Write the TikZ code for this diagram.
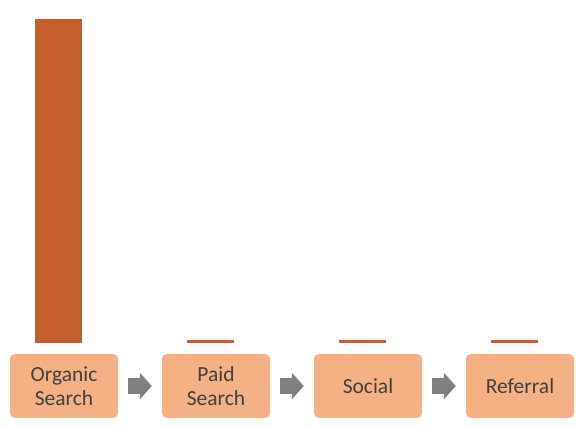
\documentclass[tikz,border=0pt]{standalone}
\usepackage{fontspec}
\setmainfont{Carlito}
\usetikzlibrary{arrows.meta}

\definecolor{barorange}{HTML}{C65E2C}
\definecolor{boxorange}{HTML}{F4B183}
\definecolor{textgray}{HTML}{404040}
\definecolor{arrowgray}{HTML}{7F7F7F}

\tikzset{
  stage/.style={fill=boxorange, rounded corners=5pt, minimum width=108pt,
    minimum height=64pt, inner sep=0pt, align=center, text=textgray,
    font=\fontsize{21.5}{24}\selectfont},
  flow/.style={draw=arrowgray, line width=16pt,
    -{Triangle[width=26pt,length=12pt]}}
}

\begin{document}
\begin{tikzpicture}[x=1pt,y=1pt]

\def \w {152} % distance between stages
\useasboundingbox (0,0) rectangle (582,427);

\foreach \name/\txt/\h [count=\i from 0] in
  {org/{Organic\\Search}/324, paid/{Paid\\Search}/3, soc/Social/3, ref/Referral/3}
{
  \node[stage] (\name) at ({64+\w*\i},41) {\txt};
  \fill[barorange] ({35+\w*\i},84) rectangle ++(47,\h);
}

\foreach \a/\b in {org/paid, paid/soc, soc/ref}
  \draw[flow] ([xshift=10pt]\a.east) -- ([xshift=-10pt]\b.west);

\end{tikzpicture}
\end{document}
